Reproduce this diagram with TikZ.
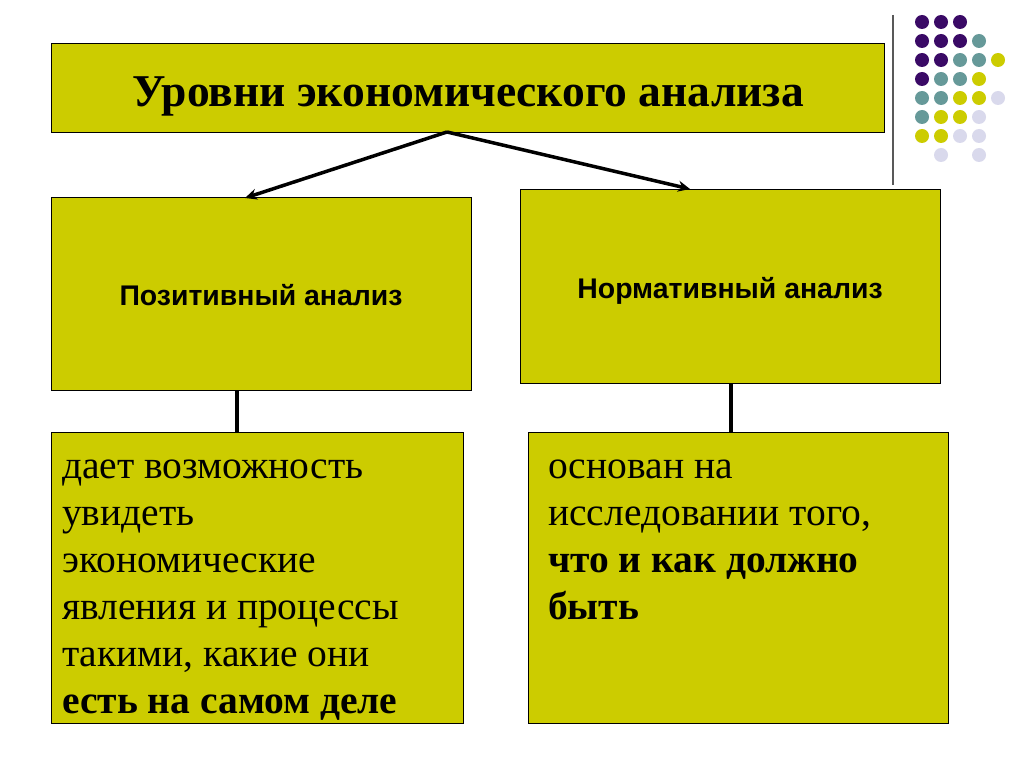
\documentclass[tikz,border=0pt]{standalone}
\usepackage{fontspec}
\setmainfont{Liberation Serif}
\newfontfamily\arialf{Liberation Sans}
\usetikzlibrary{arrows.meta}
\definecolor{boxy}{RGB}{204,204,0}
\definecolor{dpur}{RGB}{58,10,102}
\definecolor{dteal}{RGB}{102,153,153}
\definecolor{dyel}{RGB}{204,204,0}
\definecolor{dlav}{RGB}{217,217,236}
\tikzset{
  box/.style={draw=black, line width=1pt, fill=boxy, inner sep=0pt, anchor=north west},
  conn/.style={line width=3.5pt, black},
  arr/.style={conn, -{Stealth[length=12pt,width=11pt]}},
  ttl/.style={font=\bfseries\fontsize{45.5}{50}\selectfont},
  sub/.style={font=\arialf\bfseries\fontsize{28.4}{32}\selectfont, anchor=base},
  body/.style={font=\fontsize{39.5}{47}\selectfont, align=left, anchor=base west, inner sep=0pt},
  dot/.style={radius=7pt}
}
\begin{document}
\begin{tikzpicture}[x=1pt,y=-1pt]
\useasboundingbox (0,0) rectangle (1024,767);
\fill[white] (0,0) rectangle (1024,767);
% boxes
\node[box, minimum width=833pt, minimum height=89pt] (title) at (51,43) {};
\node[box, minimum width=420pt, minimum height=193pt] (pos) at (51,197) {};
\node[box, minimum width=420pt, minimum height=194pt] (norm) at (520,189) {};
\node[box, minimum width=412pt, minimum height=291pt] (posd) at (51,432) {};
\node[box, minimum width=420pt, minimum height=291pt] (normd) at (528,432) {};
% texts
\node[ttl, anchor=base] (ttltxt) at (468,107) {Уровни экономического анализа};
\node[sub] (postxt) at (261,305) {Позитивный анализ};
\node[sub] (normtxt) at (730,298) {Нормативный анализ};
\node[body] (posdtxt) at (62,713) {дает возможность\\увидеть\\экономические\\явления и процессы\\такими, какие они\\\textbf{есть на самом деле}};
\node[body] (normdtxt) at (548,619) {основан на\\исследовании того,\\\textbf{что и как должно}\\\textbf{быть}};
% connectors
\coordinate (tsplit) at (447,132);
\coordinate (posin) at (245,198);
\coordinate (normin) at (690,189);
\draw[arr] (tsplit) -- (posin);
\draw[arr] (tsplit) -- (normin);
\coordinate (posout) at (237,390);
\coordinate (posdin) at (237,432);
\coordinate (normout) at (731,383);
\coordinate (normdin) at (731,432);
\draw[conn] (posout) -- (posdin);
\draw[conn] (normout) -- (normdin);
% decoration
\draw[gray!70!black, line width=1.5pt] (893,15) -- (893,185);
\foreach \r/\row in {0/{P,P,P,N,N},1/{P,P,P,T,N},2/{P,P,T,T,Y},3/{P,T,T,Y,N},4/{T,T,Y,Y,L},5/{T,Y,Y,L,N},6/{Y,Y,L,L,N},7/{N,L,N,L,N}}{
  \foreach \c [count=\i from 0] in \row {
    \if\c P \fill[dpur] (922+19*\i,22+19*\r) circle[dot];\fi
    \if\c T \fill[dteal] (922+19*\i,22+19*\r) circle[dot];\fi
    \if\c Y \fill[dyel] (922+19*\i,22+19*\r) circle[dot];\fi
    \if\c L \fill[dlav] (922+19*\i,22+19*\r) circle[dot];\fi
  }
}
\end{tikzpicture}
\end{document}
